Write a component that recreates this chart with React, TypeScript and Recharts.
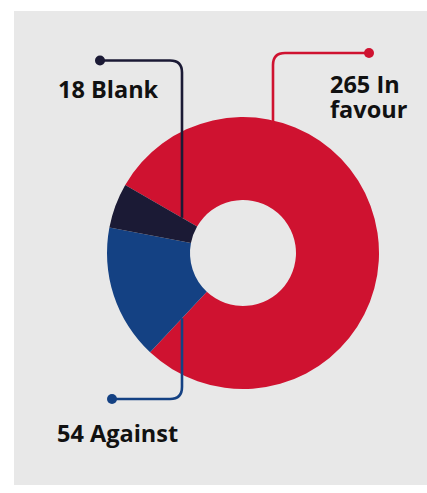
import React from 'react';
import { PieChart, Pie, Cell } from 'recharts';

const CATEGORIES = ['In favour', 'Against', 'Blank'];
const VOTES = [265, 54, 18];
const COLORS = ['#cf1230', '#144183', '#1b1a35'];

const chartData = CATEGORIES.map((name, i) => ({ name, value: VOTES[i] }));

// where each callout sits: dot, elbow line x, text position and wrapping
const CALLOUTS = [
  { dotX: 369, dotY: 53, lineX: 273, textX: 330, textY: 93, breakAfter: 2, edge: 'outer' },
  { dotX: 112, dotY: 399, lineX: 182, textX: 57, textY: 442, breakAfter: 0, edge: 'start' },
  { dotX: 100, dotY: 60.5, lineX: 182, textX: 58, textY: 98, breakAfter: 0, edge: 'end' },
];

const RAD = Math.PI / 180;

function edgeY(cx: number, cy: number, x: number, angle: number) {
  const t = (x - cx) / Math.cos(angle * RAD);
  return cy - t * Math.sin(angle * RAD);
}

const renderCallout = (props: any) => {
  const { cx, cy, outerRadius, startAngle, endAngle, index, name, value } = props;
  const c = CALLOUTS[index];
  const color = COLORS[index];
  let endY: number;
  if (c.edge === 'outer') {
    endY = cy - Math.sqrt(outerRadius * outerRadius - (c.lineX - cx) ** 2) + 8;
  } else {
    endY = edgeY(cx, cy, c.lineX, c.edge === 'start' ? startAngle : endAngle);
  }
  const r = 12;
  const dir = c.lineX > c.dotX ? 1 : -1;
  const vdir = endY > c.dotY ? 1 : -1;
  const d = `M${c.dotX},${c.dotY} H${c.lineX - dir * r} Q${c.lineX},${c.dotY} ${c.lineX},${c.dotY + vdir * r} V${endY}`;
  const words = `${value} ${name}`.split(' ');
  const lines = c.breakAfter ? [words.slice(0, c.breakAfter).join(' '), words.slice(c.breakAfter).join(' ')] : [words.join(' ')];
  return (
    <g key={`callout-${index}`}>
      <path d={d} fill="none" stroke={color} strokeWidth={2.6} />
      <circle cx={c.dotX} cy={c.dotY} r={5} fill={color} />
      {lines.map((l, i) => (
        <text key={i} x={c.textX} y={c.textY + i * 25} fill="#111" fontFamily="'Open Sans', sans-serif" fontWeight={700} fontSize={23.5}>
          {l}
        </text>
      ))}
    </g>
  );
};

const App: React.FC = () => (
  <div style={{ position: 'relative', width: 427, height: 493 }}>
    <style>{'body{margin:0}'}</style>
    <div style={{ position: 'absolute', left: 14, top: 11, width: 413, height: 474, background: '#e8e8e8' }} />
    <div style={{ position: 'absolute', left: 0, top: 0 }}>
      <PieChart width={427} height={493} margin={{ top: 0, right: 0, bottom: 0, left: 0 }}>
        <Pie
          data={chartData}
          dataKey="value"
          nameKey="name"
          cx={243}
          cy={253}
          innerRadius={53}
          outerRadius={136}
          startAngle={150}
          endAngle={-210}
          stroke="none"
          label={renderCallout}
          labelLine={false}
          isAnimationActive={false}
        >
          {chartData.map((d, i) => (
            <Cell key={d.name} fill={COLORS[i]} />
          ))}
        </Pie>
      </PieChart>
    </div>
  </div>
);

export default App;
